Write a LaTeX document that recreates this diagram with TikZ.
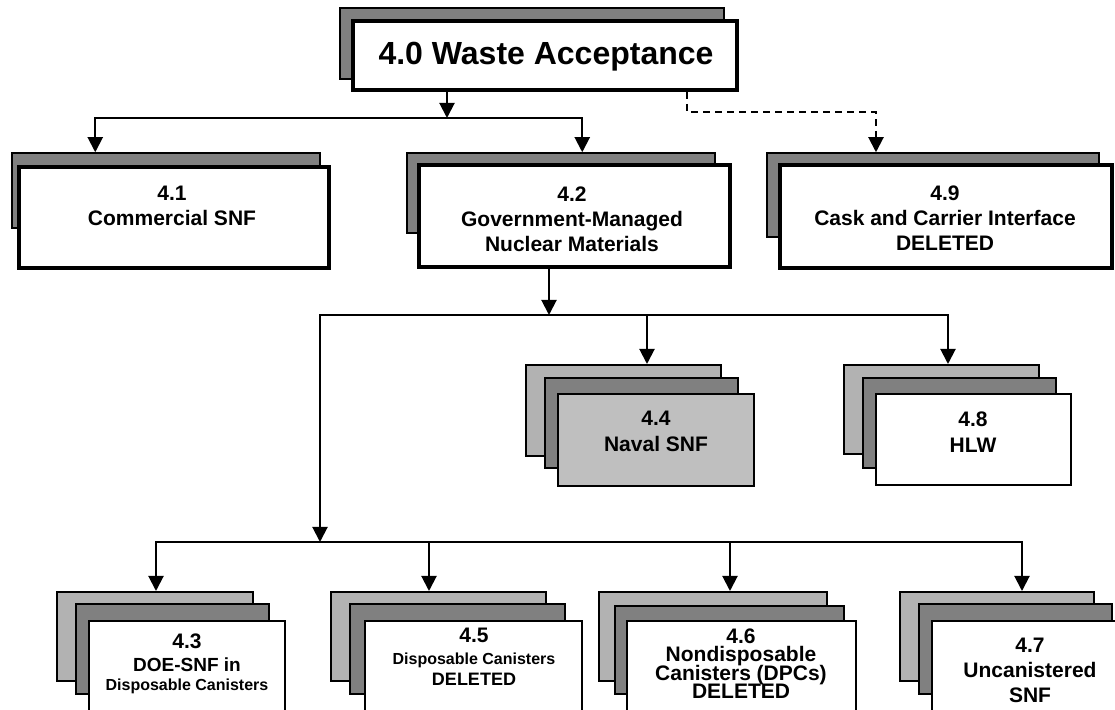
\documentclass[tikz,border=0pt]{standalone}
\usepackage{fontspec}
\setmainfont{Liberation Sans}
\usetikzlibrary{arrows.meta,calc,fit}
\definecolor{sheetdark}{gray}{0.5}
\definecolor{sheetlight}{gray}{0.7}
\definecolor{navalgray}{gray}{0.75}
\lineskiplimit=-20pt
\tikzset{
  backbox/.style={draw, fill=sheetdark, line width=0.75pt, inner sep=0pt},
  frontbox/.style={draw, fill=white, line width=2pt, inner sep=0pt},
  sheet/.style={draw, line width=1pt, inner sep=0pt},
  lbl/.style={font=\bfseries\fontsize{10.5}{12.5}\selectfont, align=center, inner sep=0pt, anchor=north},
  arr/.style={line width=1pt, -{Triangle[length=7.5pt,width=7.5pt]}},
}

\begin{document}
\begin{tikzpicture}[x=0.5pt,y=-0.5pt]
			\path[use as bounding box, clip] (0,0) rectangle (1115,710);
			
			%%%%% TOP %%%%%
			\node[backbox, fit={(340,8) (724,79)}] (b40) {};
			\node[frontbox, fit={(353,21) (737,90)}] (f40) {};
			\node[font=\bfseries\fontsize{16}{19}\selectfont, inner sep=0pt, anchor=base] (t40) at (546,65) {4.0 Waste Acceptance};
			
			%%%%% SECOND ROW %%%%%
			\node[backbox, fit={(12,153) (320,228)}] (b41) {};
			\node[frontbox, fit={(19,167) (329,268)}] (f41) {};
			\node[lbl] (t41) at (172,186) {4.1\\Commercial SNF};
			
			\node[backbox, fit={(407,153) (715,233)}] (b42) {};
			\node[frontbox, fit={(419,165) (730,267)}] (f42) {};
			\node[lbl] (t42) at (572,186) {4.2\\Government-Managed\\Nuclear Materials};
			
			\node[backbox, fit={(767,153) (1099,237)}] (b49) {};
			\node[frontbox, fit={(780,165) (1112,268)}] (f49) {};
			\node[lbl] (t49) at (945,185) {4.9\\Cask and Carrier Interface\\DELETED};
			
			%%%%% THIRD ROW %%%%%
			\node[sheet, fill=sheetlight, fit={(526,365) (721,456)}] (s44a) {};
			\node[sheet, fill=sheetdark, fit={(545,378) (738,468)}] (s44b) {};
			\node[sheet, fill=navalgray, fit={(558,394) (754,486)}] (s44c) {};
			\node[lbl, font=\bfseries\fontsize{10.5}{13}\selectfont] (t44) at (656,411) {4.4\\Naval SNF};
			
			\node[sheet, fill=sheetlight, fit={(844,365) (1039,454)}] (s48a) {};
			\node[sheet, fill=sheetdark, fit={(863,378) (1056,468)}] (s48b) {};
			\node[sheet, fill=white, fit={(876,394) (1071,485)}] (s48c) {};
			\node[lbl, font=\bfseries\fontsize{10.5}{13}\selectfont] (t48) at (973,411) {4.8\\HLW};
			
			%%%%% BOTTOM ROW %%%%%
			\node[sheet, fill=sheetlight, fit={(57,592) (253,681)}] (s43a) {};
			\node[sheet, fill=sheetdark, fit={(76,604) (269,694)}] (s43b) {};
			\node[sheet, fill=white, fit={(89,621) (285,730)}] (s43c) {};
			\node[lbl, font=\bfseries\fontsize{10.5}{11.5}\selectfont] (t43) at (187,633)
				{4.3\\{\fontsize{9.5}{11}\selectfont DOE-SNF in}\\[-2pt]{\fontsize{8}{9.5}\selectfont Disposable Canisters}};
			
			\node[sheet, fill=sheetlight, fit={(331,592) (546,681)}] (s45a) {};
			\node[sheet, fill=sheetdark, fit={(350,604) (565,694)}] (s45b) {};
			\node[sheet, fill=white, fit={(365,621) (582,730)}] (s45c) {};
			\node[lbl, font=\bfseries\fontsize{10.5}{10.75}\selectfont] (t45) at (474,628)
				{4.5\\{\fontsize{8}{9.5}\selectfont Disposable Canisters}\\{\fontsize{9}{10}\selectfont DELETED}};
			
			\node[sheet, fill=sheetlight, fit={(599,592) (827,681)}] (s46a) {};
			\node[sheet, fill=sheetdark, fit={(615,606) (844,694)}] (s46b) {};
			\node[sheet, fill=white, fit={(627,621) (856,730)}] (s46c) {};
			\node[lbl, font=\bfseries\fontsize{10.5}{9.25}\selectfont] (t46) at (741,628)
				{4.6\\Nondisposable\\Canisters (DPCs)\\DELETED};
			
			\node[sheet, fill=sheetlight, fit={(900,592) (1094,681)}] (s47a) {};
			\node[sheet, fill=sheetdark, fit={(919,604) (1112,694)}] (s47b) {};
			\node[sheet, fill=white, fit={(932,621) (1128,730)}] (s47c) {};
			\node[lbl] (t47) at (1030,638) {4.7\\Uncanistered\\SNF};
			
			%%%%% CONNECTORS %%%%%
			\coordinate (j40) at (447,118);
			\coordinate (d49) at (876,112);
			\coordinate (j42) at (549,315);
			\coordinate (j43) at (320,542);
			
			\draw[arr] (f40.south -| j40) -- (j40);
			\draw[arr] (j40) -| ($(b41.north west)+(84,0)$);
			\draw[arr] (j40) -| ($(b42.north west)+(176,0)$);
			\draw[arr, dash pattern=on 3.5pt off 2.5pt] ($(f40.south west)+(336,0)$) |- (d49) -- (b49.north -| d49);
			
			\draw[arr] (f42.south -| j42) -- (j42);
			\draw[arr] (j42) -| ($(s44a.north west)+(122,0)$);
			\draw[arr] (j42) -| ($(s48a.north west)+(105,0)$);
			\draw[arr] (j42) -| (j43);
			
			\draw[arr] (j43) -| ($(s43a.north west)+(100,0)$);
			\draw[arr] (j43) -| ($(s45a.north west)+(99,0)$);
			\draw[arr] (j43) -| ($(s46a.north west)+(132,0)$);
			\draw[arr] (j43) -| ($(s47a.north west)+(123,0)$);
			
			%%%%% END %%%%%
\end{tikzpicture}
\end{document}
